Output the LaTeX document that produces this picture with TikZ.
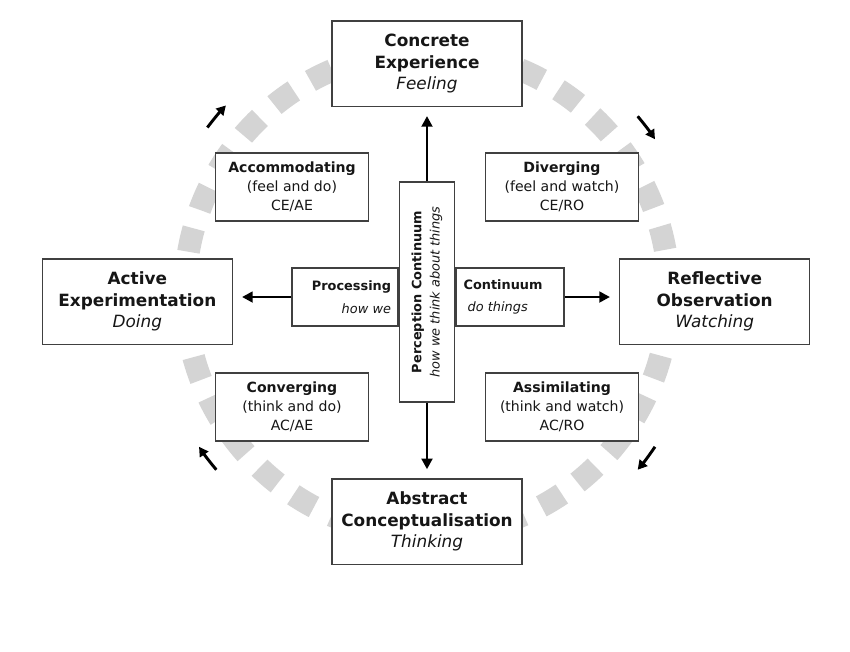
\documentclass[tikz,border=0pt]{standalone}
\usepackage{fontspec}
\setmainfont{DejaVu Sans}
\usepackage{xcolor}
\usepackage{tikz}
\usetikzlibrary{arrows.meta,positioning}
\definecolor{kolbRing}{RGB}{212,212,212}
\definecolor{kolbEdge}{RGB}{64,64,64}
\definecolor{kolbText}{RGB}{22,22,22}
\tikzset{
  modebox/.style={draw=kolbEdge, line width=1.2pt, fill=white, text=kolbText, align=center,
    minimum width=5.7cm, minimum height=2.56cm, inner sep=2pt, font=\fontsize{14.4}{18.4}\selectfont},
  stylebox/.style={draw=kolbEdge, line width=1.2pt, fill=white, text=kolbText, align=center,
    minimum width=4.58cm, minimum height=2.04cm, inner sep=2pt, font=\fontsize{12}{16.2}\selectfont},
  axisbox/.style={draw=kolbEdge, line width=1.2pt, fill=white, text=kolbText,
    minimum height=1.74cm, font=\fontsize{11}{19.5}\selectfont},
  flow/.style={line width=2.5pt, -{Triangle[length=3.2mm,width=3.2mm]}, shorten >=0.27cm}
}

\begin{document}
\begin{tikzpicture}
\useasboundingbox (-12.81,-10.74) rectangle (12.69,8.79);
% ring of the learning cycle
\draw[kolbRing, line width=0.68cm, dash pattern=on 0.72cm off 0.583cm] (0,0) circle (7.26);
\foreach \a in {140,37,-37,-143}
  \draw[line width=2.5pt, -{Triangle[length=2.8mm,width=3mm]}] (\a+3:8.25) arc[start angle=\a+3, end angle=\a-3, radius=8.25];

% the four modes
\node[modebox] (ce) at (0,6.88) {\textbf{Concrete}\\\textbf{Experience}\\\textit{Feeling}};
\node[modebox] (ac) at (0,-6.86) {\textbf{Abstract}\\\textbf{Conceptualisation}\\\textit{Thinking}};
\node[modebox] (ae) at (-8.69,-0.26) {\textbf{Active}\\\textbf{Experimentation}\\\textit{Doing}};
\node[modebox] (ro) at (8.63,-0.26) {\textbf{Reflective}\\\textbf{Observation}\\\textit{Watching}};

% the four styles
\node[stylebox] (acc) at (-4.05,3.18) {\textbf{Accommodating}\\(feel and do)\\CE/AE};
\node[stylebox] (div) at (4.05,3.18) {\textbf{Diverging}\\(feel and watch)\\CE/RO};
\node[stylebox] (conv) at (-4.05,-3.42) {\textbf{Converging}\\(think and do)\\AC/AE};
\node[stylebox] (assim) at (4.05,-3.42) {\textbf{Assimilating}\\(think and watch)\\AC/RO};

% the two continua (perc is turned: east is up, north is left)
\node[axisbox, rotate=90, align=center, minimum width=6.6cm, minimum height=1.65cm,
  font=\fontsize{11}{15.6}\selectfont] (perc) at (0,0.03)
  {\textbf{Perception Continuum}\\\textit{how we think about things}};
\node[axisbox, anchor=east, align=right, text width=2.76cm, inner xsep=0.21cm] (proc)
  at ([yshift=-0.15cm]perc.north) {\textbf{Processing}\\\textit{how we}};
\node[axisbox, anchor=west, align=left, text width=2.78cm, inner xsep=0.23cm] (cont)
  at ([yshift=-0.15cm]perc.south) {\textbf{Continuum}\\\hspace*{0.12cm}\textit{do things}};

\draw[flow] (perc.east) -- (ce);
\draw[flow] (perc.west) -- (ac);
\draw[flow] (proc.west) -- (proc.west -| ae.east);
\draw[flow] (cont.east) -- (cont.east -| ro.west);
\end{tikzpicture}
\end{document}
